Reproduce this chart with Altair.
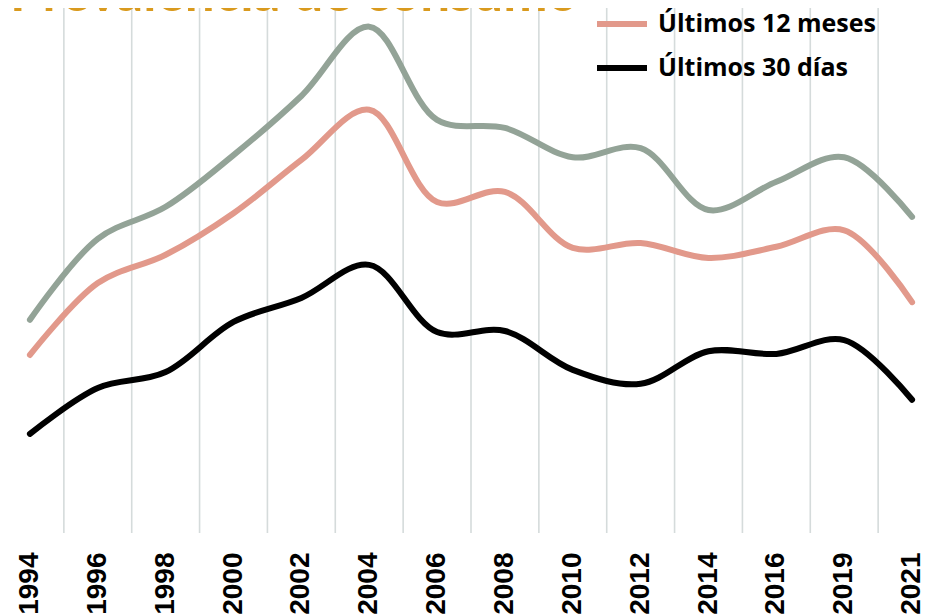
import altair as alt
import pandas as pd

# ---- data ----
years = ["1994", "1996", "1998", "2000", "2002", "2004", "2006",
         "2008", "2010", "2012", "2014", "2016", "2019", "2021"]
series = ["Alguna vez en la vida", "Últimos 12 meses", "Últimos 30 días"]
alguna_vez = [40.0, 55.2, 61.2, 70.9, 82.0, 95.0, 77.5, 76.0, 70.5, 72.2, 60.6, 65.9, 70.5, 59.3]
ultimos_12_meses = [33.4, 46.9, 52.2, 60.0, 70.0, 79.4, 62.1, 64.0, 53.5, 54.4, 51.6, 53.7, 56.8, 43.3]
ultimos_30_dias = [18.6, 27.2, 30.2, 39.6, 44.1, 50.3, 37.7, 37.9, 30.6, 28.0, 34.1, 33.6, 36.2, 25.0]
colors = ["#93A397", "#E2998B", "#000000"]
title_text = "Prevalencia de consumo"

rows = []
for s, vals in zip(series, [alguna_vez, ultimos_12_meses, ultimos_30_dias]):
    for y, v in zip(years, vals):
        rows.append({"year": y, "serie": s, "value": v})
df = pd.DataFrame(rows)
grid_df = pd.DataFrame({"year": years})

xscale = alt.Scale(type="band", domain=years, range=[-12, 938], paddingInner=0, paddingOuter=0)
xaxis = alt.Axis(labelAngle=270, labelFont="Liberation Sans", labelFontSize=28,
                 labelFontWeight="bold", labelColor="#000000", labelPadding=19,
                 ticks=False, domain=False, grid=False, title=None,
                 labelOverlap=False, labelBound=False)

grid = alt.Chart(grid_df).mark_rule(color="#D5DBDB", strokeWidth=1.6).encode(
    x=alt.X("year:N", bandPosition=0, scale=xscale, sort=years, axis=xaxis),
    y=alt.value(-8),
    y2=alt.value(525),
)

lines = alt.Chart(df).mark_line(
    interpolate="catmull-rom", strokeWidth=6, strokeCap="round", strokeJoin="round"
).encode(
    x=alt.X("year:N", scale=xscale, sort=years, axis=xaxis),
    y=alt.Y("value:Q", scale=alt.Scale(domain=[0, 98.5]), axis=None),
    color=alt.Color("serie:N", scale=alt.Scale(domain=series, range=colors),
                    legend=alt.Legend(orient="none", legendX=586, legendY=-56, title=None,
                                      symbolType="stroke", symbolStrokeWidth=6,
                                      symbolSize=2500, labelFont="Open Sans",
                                      labelFontSize=25, labelFontWeight="bold",
                                      labelColor="#000000", labelOffset=8,
                                      rowPadding=3, padding=0, labelLimit=400)),
    detail="serie:N",
)

title = alt.Chart(alt.Data(values=[{"t": title_text}])).mark_text(
    align="left", baseline="alphabetic", font="Lato", fontSize=53,
    fontWeight="bold", color="#D99A1E"
).encode(text="t:N", x=alt.value(2), y=alt.value(3))

chart = alt.layer(grid, lines, title).properties(
    width=923, height=525,
    autosize=alt.AutoSizeParams(type="none"),
    padding={"left": 0, "top": 0, "right": 0, "bottom": 82},
    background="white",
).configure_view(stroke=None)

chart.save("out.html", embed_options={"renderer": "svg", "actions": False})
